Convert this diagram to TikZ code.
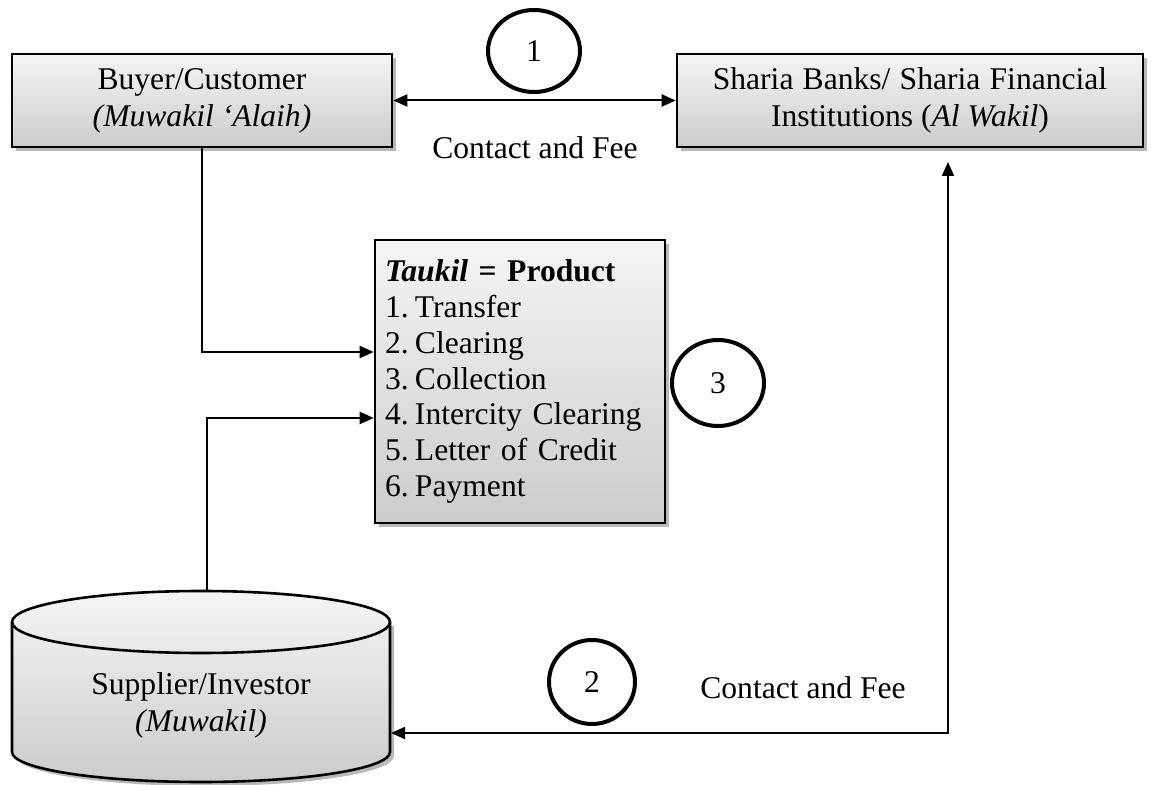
\documentclass[tikz,border=0pt]{standalone}
\usepackage{fontspec}
\setmainfont{Liberation Serif}
\usetikzlibrary{arrows.meta,shapes.geometric,calc}
\begin{document}
\begin{tikzpicture}[x=0.5pt,y=0.5pt,
  every node/.style={font=\fontsize{15.8}{18.5}\selectfont, align=center},
  box/.style={draw=black, line width=1.3pt, top color=gray!8, bottom color=gray!40, inner sep=0pt,
    preaction={fill=gray!55, transform canvas={shift={(2pt,-2pt)}}}},
  conn/.style={line width=1pt},
  tipend/.style={-{Triangle[length=7pt,width=6pt]}},
  tipboth/.style={{Triangle[length=7pt,width=6pt]}-{Triangle[length=7pt,width=6pt]}},
  num/.style={ellipse, draw, line width=2pt, inner sep=0pt}]
\useasboundingbox (0,0) rectangle (1172,-785);

% boxes
\node[box, minimum width=190pt, minimum height=46.5pt] (buyer) at (202,-100.5)
  {Buyer/Customer\\\textit{(Muwakil ‘Alaih)}};
\node[box, minimum width=233pt, minimum height=46.5pt] (sharia) at (910,-100.5)
  {\spaceskip=4.6pt Sharia Banks/ Sharia Financial\\Institutions (\textit{Al Wakil})};
\node[box, minimum width=145pt, minimum height=141.5pt, text width=135pt, align=left,
  font=\fontsize{15.8}{17.9}\selectfont] (taukil) at (520,-381.5)
  {\textbf{\textit{Taukil} = Product}\\
   \makebox[15pt][l]{1.}Transfer\\
   \makebox[15pt][l]{2.}Clearing\\
   \makebox[15pt][l]{3.}Collection\\
   \makebox[15pt][l]{4.}Intercity Clearing\\
   \makebox[15pt][l]{5.}Letter of Credit\\
   \makebox[15pt][l]{6.}Payment};

% cylinder (supplier)
\fill[gray!55] (16,-626) -- (16,-756) arc[start angle=180,end angle=360,x radius=189,y radius=30] -- (394,-626) -- cycle;
\path[draw=black, line width=1.3pt, top color=gray!8, bottom color=gray!40]
  (12,-622) -- (12,-752) arc[start angle=180,end angle=360,x radius=189,y radius=30]
  -- (390,-622) arc[start angle=0,end angle=180,x radius=189,y radius=31] -- cycle;
\draw[line width=1.3pt] (12,-622) arc[start angle=180,end angle=360,x radius=189,y radius=31];
\node (supplier) at (201,-705) {Supplier/Investor\\\textit{(Muwakil)}};
\coordinate (supTop) at (207,-591);
\coordinate (supR) at (391,-733);
\coordinate (shTip) at (948,-162);

% numbered circles
\node[num, minimum width=46pt, minimum height=41pt] (c1) at (534,-51) {1};
\node[num, minimum width=46pt, minimum height=43pt] (c3) at (718,-383) {3};
\node[num, minimum width=43pt, minimum height=42pt] (c2) at (592,-682) {2};

% labels
\node (fee1) at (535,-148) {Contact and Fee};
\node (fee2) at (803,-688) {Contact and Fee};

% connectors
\draw[conn, tipboth] (buyer.east) -- (sharia.west);
\draw[conn, tipend] (buyer.south) |- (taukil.west |- 0,-352);
\draw[conn, tipend] (supTop) |- (taukil.west |- 0,-418);
\draw[conn, tipboth] (supR) -| (shTip);
\end{tikzpicture}
\end{document}
